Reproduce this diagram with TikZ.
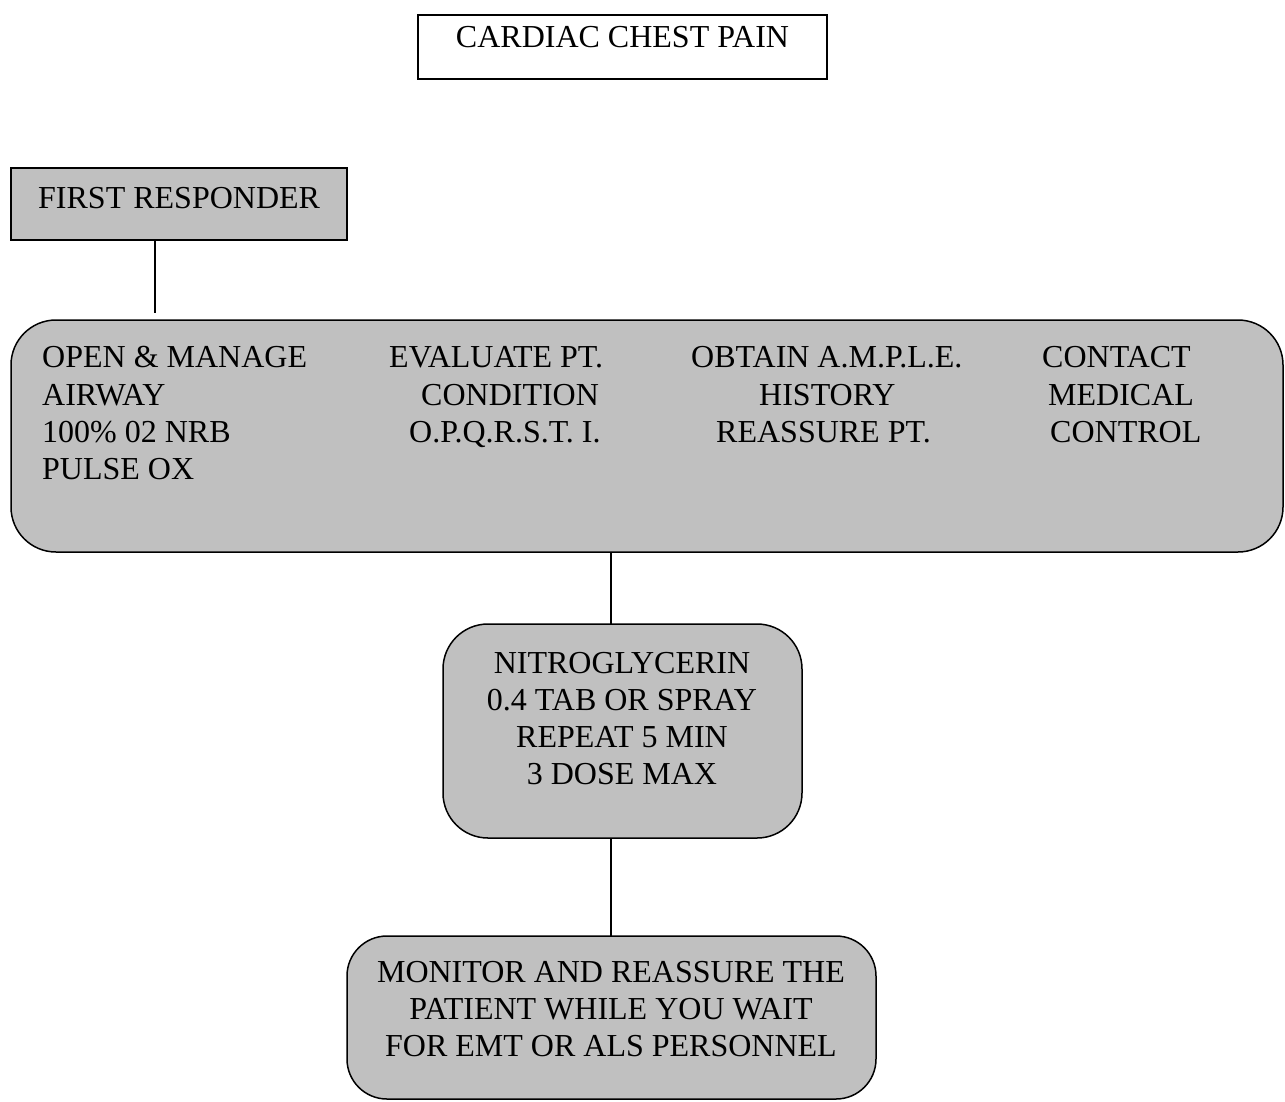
\documentclass[tikz,border=0pt]{standalone}
\usepackage{fontspec}
\setmainfont{Liberation Serif}
\definecolor{boxgray}{HTML}{C0C0C0}
\begin{document}
\begin{tikzpicture}[x=1pt,y=-1pt,
  frame/.style={draw=black,line width=1.5pt,inner sep=0pt,outer sep=0pt},
  graybox/.style={frame,fill=boxgray},
  roundbox/.style={graybox,rounded corners=#1},
  txt/.style={anchor=base west,inner sep=0pt,font=\fontsize{32}{37.5}\selectfont},
  ctxt/.style={anchor=base,inner sep=0pt,font=\fontsize{32}{37.5}\selectfont},
  link/.style={line width=1.5pt}]
\useasboundingbox (0,0) rectangle (1285,1101);

% boxes
\node[frame,fill=white,minimum width=409pt,minimum height=64pt] (title) at (622.5,47) {};
\node[graybox,minimum width=336pt,minimum height=72pt] (fr) at (179,204) {};
\node[roundbox=45pt,minimum width=1272pt,minimum height=232pt] (main) at (647,436) {};
\node[roundbox=45pt,minimum width=359pt,minimum height=214pt] (nitro) at (622.5,731) {};
\node[roundbox=40pt,minimum width=529pt,minimum height=163pt] (mon) at (611.5,1017.5) {};

% connectors
\coordinate (frdown) at (155,313);
\draw[link] (fr.south -| frdown) -- (frdown);
\draw[link] (main.south -| 611,0) -- (nitro.north -| 611,0);
\draw[link] (nitro.south -| 611,0) -- (mon.north -| 611,0);

% texts
\node[ctxt] (t0) at (622.5,47) {CARDIAC CHEST PAIN};
\node[txt] (t1) at (38,208) {FIRST RESPONDER};

\node[txt] (a1) at (42,367) {OPEN \& MANAGE};
\node[txt] (a2) at (42,405) {AIRWAY};
\node[txt] (a3) at (42,442) {100\% 02 NRB};
\node[txt] (a4) at (42,479) {PULSE OX};

\node[txt] (b1) at (389,367) {EVALUATE PT.};
\node[txt] (b2) at (421,405) {CONDITION};
\node[txt] (b3) at (409,442) {O.P.Q.R.S.T. I.};

\node[txt] (c1) at (691,367) {OBTAIN A.M.P.L.E.};
\node[txt] (c2) at (759,405) {HISTORY};
\node[txt] (c3) at (716,442) {REASSURE PT.};

\node[txt] (d1) at (1042,367) {CONTACT};
\node[txt] (d2) at (1048,405) {MEDICAL};
\node[txt] (d3) at (1050,442) {CONTROL};

\node[ctxt] (n1) at (622,673) {NITROGLYCERIN};
\node[ctxt] (n2) at (622,710) {0.4 TAB OR SPRAY};
\node[ctxt] (n3) at (622,747) {REPEAT 5 MIN};
\node[ctxt] (n4) at (622,784) {3 DOSE MAX};

\node[ctxt] (m1) at (611,982) {MONITOR AND REASSURE THE};
\node[ctxt] (m2) at (611,1019) {PATIENT WHILE YOU WAIT};
\node[ctxt] (m3) at (611,1056) {FOR EMT OR ALS PERSONNEL};
\end{tikzpicture}
\end{document}
